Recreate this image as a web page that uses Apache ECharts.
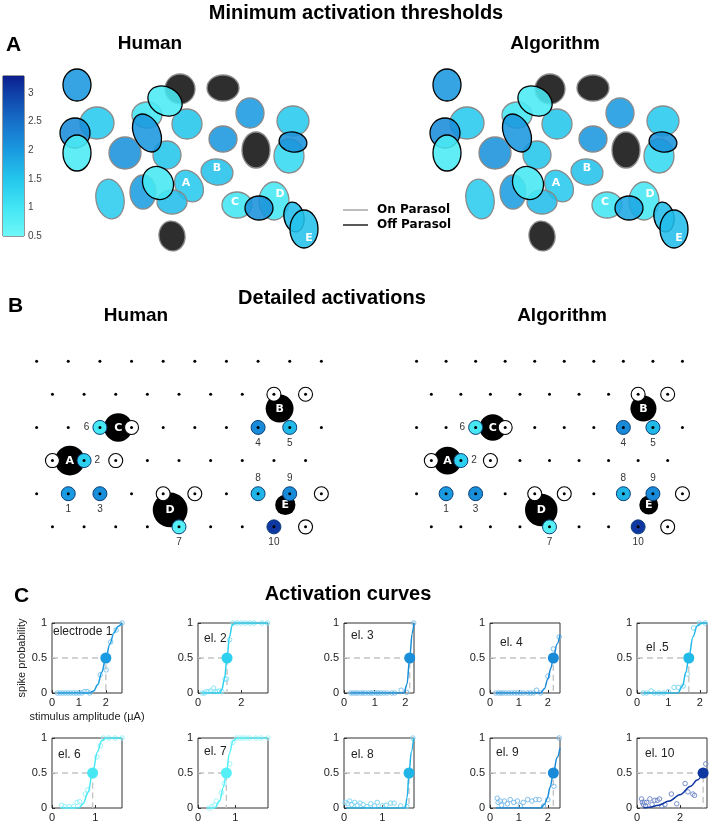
<!DOCTYPE html>
<html>
<head>
<meta charset="utf-8">
<script src="https://cdn.jsdelivr.net/npm/echarts@6.0.0/dist/echarts.min.js"></script>
<style>
  html, body { margin: 0; background: #fff; }
  #chart { width: 712px; height: 823px; }
</style>
</head>
<body>
<div id="chart"></div>
<script>
// ---------- panel A: receptive fields (panel units ~ pixels of the original map) ----------
const rfCenters = [
  [37, 15], [140, 19], [125, 31], [183, 18], [210, 43], [253, 51], [57, 53], [107, 45],
  [107, 63], [147, 54], [35, 63], [37, 83], [85, 83], [127, 85], [183, 69], [216, 80],
  [253, 72], [249, 86], [177, 102], [118, 113], [149, 116], [70, 129], [103, 122], [132, 132],
  [197, 135], [234, 131], [219, 138], [254, 147], [264, 159], [132, 166]
];
const rfRadii = [
  [14, 16], [15, 15], [18, 14], [16, 13], [14, 15], [16, 15], [17, 16], [15, 13],
  [13, 20], [15, 15], [15, 15], [14, 18], [16, 16], [14, 14], [14, 13], [14, 18],
  [14, 10], [15, 17], [16, 13], [15, 17], [13, 17], [14, 20], [13, 17], [15, 12],
  [15, 13], [15, 19], [14, 12], [10, 15], [14, 19], [13, 15]
];
const rfTilt = [0, 0, 30, 0, 0, 0, 0, 0, -25, 0, 0, 0, 0, 0, 0, 0, 10, 0, 10, -30, -35, -10, 0, 0, 0, 0, 0, -10, 0, -10];
// 1 = off parasol (black outline), 0 = on parasol (grey outline)
const rfType = [1, 0, 1, 0, 0, 0, 0, 0, 1, 0, 1, 1, 0, 0, 0, 0, 1, 0, 0, 1, 0, 0, 0, 0, 0, 0, 1, 1, 1, 0];
// minimum activation thresholds (µA); null = not activated (black)
const thrHuman = [2.05, null, 0.9, null, 2.0, 1.45, 1.45, 1.0, 2.05, 1.5, 2.15, 0.9, 2.1, 1.5, 2.05, null,
  2.1, 1.2, 1.55, 0.95, 1.45, 1.4, 1.95, 1.6, 1.0, 0.95, 2.1, 1.6, 1.55, null];
const thrAlgo = [2.05, null, 0.9, null, 2.0, 1.45, 1.45, 1.0, 2.05, 1.5, 2.15, 0.9, 2.1, 1.5, 2.05, null,
  2.1, 1.2, 1.55, 0.95, 1.45, 1.4, 1.95, 1.6, 1.0, 0.95, 1.85, 1.6, 1.6, null];
const rfLabels = { 20: ['A', -3, -3], 18: ['B', 0, -4], 24: ['C', -2, -3], 25: ['D', 6, -7], 28: ['E', 5, 9] };

// colour scale
const cmapStops = [0.5, 1.0, 1.5, 2.0, 2.5, 3.0, 3.3];
const cmapColors = ['#6ef8f8', '#42e6f4', '#24c6ec', '#1a9ae0', '#1770c8', '#0f40a8', '#0b1e8c'];
const cbTicks = [0.5, 3.3];

// ---------- panel B: electrode array (col, row) ----------
const evenCols = [0, 1, 2, 3, 4, 5, 6, 7, 8, 9];
const oddCols = [0.5, 1.5, 2.5, 3.5, 4.5, 5.5, 6.5, 7.5, 8.5];
const arrayRows = [0, 1, 2, 3, 4, 5];
const somaPos = [[1.05, 3], [2.58, 2], [7.68, 1.43], [4.22, 4.49], [7.86, 4.34]];
const somaR = [0.47, 0.45, 0.44, 0.55, 0.32];
const somaLabel = ['A', 'C', 'B', 'D', 'E'];
const stimPos = [[1, 4], [1.5, 3], [2, 4], [7, 2], [8, 2], [2, 2], [4.5, 5], [7, 4], [8, 4], [7.5, 5]];
const recPos = [[7.5, 1], [8.5, 1], [3, 2], [0.5, 3], [2.5, 3], [4, 4], [5, 4], [9, 4], [8.5, 5]];

// ---------- panel C: activation curves ----------
const elThr = [2.0, 1.34, 2.14, 2.19, 1.65, 0.94, 0.76, 1.70, 2.19, 3.08];
const elNames = ['electrode 1', 'el. 2', 'el. 3', 'el. 4', 'el .5', 'el. 6', 'el. 7', 'el. 8', 'el. 9', 'el. 10'];
const xMax = [2.6, 3.23, 2.28, 2.42, 2.23, 1.62, 1.875, 1.83, 2.42, 3.26];
const xStep = [1, 2, 1, 1, 1, 1, 1, 1, 1, 2];
const elPoints = [
  [[0.2,0],[0.3,0],[0.4,0],[0.5,0],[0.6,0],[0.7,0],[0.8,0],[0.9,0],[1.0,0],[1.1,0],[1.2,0.02],[1.3,0.02],[1.4,0],[1.79,0.26],[2.01,0.33],[2.18,0.73],[2.38,0.9],[2.6,1.0]],
  [[0.2,0],[0.3,0],[0.4,0.02],[0.5,0.02],[0.6,0.03],[0.72,0.07],[0.8,0.02],[0.9,0.02],[1.0,0.03],[1.1,0.02],[1.25,0.2],[1.32,0.2],[1.46,0.76],[1.62,1],[1.8,1],[2.0,1],[2.2,1],[2.4,1],[2.6,1],[2.95,1],[3.2,1]],
  [[0.22,0],[0.3,0],[0.38,0],[0.45,0],[0.55,0],[0.62,0],[0.7,0],[0.8,0],[0.88,0],[0.95,0],[1.05,0],[1.12,0],[1.2,0],[1.3,0],[1.4,0],[1.55,0],[1.65,0],[1.86,0.04],[2.04,0.01],[2.27,1.0]],
  [[0.2,0],[0.3,0],[0.38,0],[0.45,0],[0.55,0],[0.65,0],[0.75,0],[0.85,0],[0.95,0],[1.05,0],[1.15,0],[1.3,0],[1.4,0],[1.5,0],[1.61,0.04],[1.75,0],[2.0,0.24],[2.19,0.63],[2.39,0.8]],
  [[0.2,0],[0.3,0],[0.45,0.03],[0.55,0],[0.7,0],[0.85,0],[1.0,0.02],[1.18,0.08],[1.32,0.08],[1.47,0.1],[1.6,0.27],[1.8,0.93],[1.99,1],[2.17,1]],
  [[0.22,0.04],[0.3,0.02],[0.4,0.02],[0.5,0.02],[0.58,0.08],[0.64,0.09],[0.77,0.2],[0.83,0.26],[1.04,0.73],[1.12,0.89],[1.19,1],[1.31,1],[1.46,1],[1.62,1]],
  [[0.3,0],[0.38,0.02],[0.45,0.04],[0.49,0.1],[0.63,0.22],[0.7,0.35],[0.85,0.63],[0.94,0.94],[1.03,1],[1.12,1],[1.2,1],[1.28,1],[1.38,1],[1.55,1],[1.68,1],[1.87,1]],
  [[0.03,0.08],[0.1,0.06],[0.15,0.1],[0.2,0.05],[0.28,0.08],[0.35,0.04],[0.42,0.07],[0.5,0.05],[0.6,0.02],[0.7,0.06],[0.8,0.03],[0.87,0.08],[1.0,0.03],[1.1,0.04],[1.22,0.07],[1.31,0.07],[1.48,0.03],[1.64,0.02],[1.8,1.0]],
  [[0.25,0.14],[0.28,0.08],[0.35,0.1],[0.4,0.04],[0.5,0.1],[0.6,0.06],[0.7,0.12],[0.82,0.08],[0.95,0.1],[1.05,0.03],[1.15,0.08],[1.3,0.12],[1.45,0.1],[1.58,0.12],[1.7,0.12],[1.85,0.03],[2.0,0.12],[2.21,0.31],[2.39,1.0]],
  [[0.21,0.13],[0.25,0.08],[0.3,0.05],[0.35,0.08],[0.4,0.03],[0.45,0.08],[0.6,0.13],[0.7,0.05],[0.83,0.11],[0.95,0.11],[1.05,0.13],[1.15,0.03],[1.3,0.05],[1.6,0.2],[1.85,0.06],[2.24,0.35],[2.37,0.23],[2.6,0.2],[2.68,0.18],[3.2,0.63]]
];
const elCurves = [
  [[0.2,0],[1.4,0],[1.55,0.03],[1.7,0.12],[1.85,0.3],[2.0,0.5],[2.15,0.7],[2.3,0.86],[2.45,0.95],[2.6,1.0]],
  [[0.2,0],[1.0,0],[1.1,0.05],[1.22,0.2],[1.34,0.5],[1.45,0.8],[1.58,0.97],[1.7,1],[3.23,1]],
  [[0.2,0],[1.95,0],[2.05,0.12],[2.14,0.5],[2.22,0.85],[2.28,1.0]],
  [[0.2,0],[1.75,0],[1.88,0.06],[2.0,0.2],[2.1,0.35],[2.19,0.5],[2.32,0.7],[2.42,0.83]],
  [[0.2,0],[1.3,0],[1.45,0.1],[1.56,0.3],[1.65,0.5],[1.78,0.8],[1.92,0.96],[2.05,1],[2.23,1]],
  [[0.2,0],[0.62,0],[0.72,0.06],[0.83,0.22],[0.94,0.5],[1.05,0.8],[1.15,0.96],[1.25,1],[1.62,1]],
  [[0.25,0],[0.45,0],[0.58,0.1],[0.68,0.3],[0.76,0.5],[0.84,0.78],[0.94,0.96],[1.05,1],[1.87,1]],
  [[0.05,0],[1.6,0],[1.65,0.15],[1.7,0.5],[1.76,0.8],[1.82,1]],
  [[0.2,0],[1.75,0],[1.88,0.05],[1.98,0.14],[2.08,0.3],[2.19,0.5],[2.32,0.72],[2.42,0.86]],
  [[0.3,0],[0.6,0.01],[1.0,0.04],[1.5,0.1],[2.0,0.19],[2.5,0.31],[2.8,0.4],[3.08,0.5]]
];

const FONT = '"Liberation Sans", Arial, sans-serif';

function cmap(v) {
  if (v <= cmapStops[0]) return cmapColors[0];
  for (let k = 1; k < cmapStops.length; k++) {
    if (v <= cmapStops[k]) {
      const t = (v - cmapStops[k - 1]) / (cmapStops[k] - cmapStops[k - 1]);
      return echarts.color.lerp(t, [cmapColors[k - 1], cmapColors[k]]);
    }
  }
  return cmapColors[cmapColors.length - 1];
}

const myChart = echarts.init(document.getElementById('chart'));

const grids = [], xAxes = [], yAxes = [], series = [];
function hiddenGrid(g, x0, x1, y0, y1, inverse) {
  grids.push(g);
  const i = grids.length - 1;
  xAxes.push({ type: 'value', gridIndex: i, min: x0, max: x1, show: false });
  yAxes.push({ type: 'value', gridIndex: i, min: y0, max: y1, inverse: !!inverse, show: false });
  return i;
}

// ----- panel A -----
function rfSeries(gi, thr) {
  const order = rfCenters.map((c, i) => i).sort((a, b) => rfType[a] - rfType[b]);
  series.push({
    type: 'custom', xAxisIndex: gi, yAxisIndex: gi, silent: true,
    data: order.map(i => [rfCenters[i][0], rfCenters[i][1], i]),
    renderItem: (params, api) => {
      const i = api.value(2);
      const p = api.coord([api.value(0), api.value(1)]);
      const s = api.size([rfRadii[i][0], rfRadii[i][1]]);
      const fill = thr[i] == null ? '#111' : cmap(thr[i]);
      return {
        type: 'ellipse', x: p[0], y: p[1], rotation: -rfTilt[i] * Math.PI / 180,
        shape: { cx: 0, cy: 0, rx: s[0], ry: s[1] },
        style: { fill: fill, fillOpacity: 0.88, stroke: rfType[i] ? '#000' : '#8a8a8a', lineWidth: 1.3 }
      };
    }
  });
  const labIdx = Object.keys(rfLabels).map(Number);
  series.push({
    type: 'custom', xAxisIndex: gi, yAxisIndex: gi, silent: true, z: 5,
    data: labIdx.map(i => [rfCenters[i][0], rfCenters[i][1], i]),
    renderItem: (params, api) => {
      const i = api.value(2);
      const p = api.coord([api.value(0), api.value(1)]);
      const lab = rfLabels[i];
      return {
        type: 'text', x: p[0] + lab[1], y: p[1] + lab[2],
        style: { text: lab[0], fill: '#fff', font: 'bold 11px "DejaVu Sans", sans-serif',
          align: 'center', verticalAlign: 'middle', textAlign: 'center', textVerticalAlign: 'middle' }
      };
    }
  });
}
const gAH = hiddenGrid({ left: 40, top: 70, width: 290, height: 180 }, 0, 290, 0, 180, true);
rfSeries(gAH, thrHuman);
const gAA = hiddenGrid({ left: 410, top: 70, width: 290, height: 180 }, 0, 290, 0, 180, true);
rfSeries(gAA, thrAlgo);

// colorbar
grids.push({ left: 3, top: 76, width: 21, height: 160, show: true, borderColor: '#333', borderWidth: 1 });
const gCB = grids.length - 1;
xAxes.push({ type: 'value', gridIndex: gCB, min: 0, max: 1, show: false });
yAxes.push({
  type: 'value', gridIndex: gCB, min: cbTicks[0], max: cbTicks[1], interval: 0.5, position: 'right',
  axisLine: { show: false }, splitLine: { show: false }, axisTick: { show: false },
  axisLabel: { fontSize: 10, color: '#444', margin: 4, fontFamily: FONT, showMaxLabel: false }
});
series.push({
  type: 'custom', xAxisIndex: gCB, yAxisIndex: gCB, silent: true, data: [[0, cbTicks[0], 1, cbTicks[1]]],
  renderItem: (params, api) => {
    const a = api.coord([api.value(0), api.value(3)]);
    const b = api.coord([api.value(2), api.value(1)]);
    const stops = cmapStops.map((v, k) => ({
      offset: (cbTicks[1] - v) / (cbTicks[1] - cbTicks[0]), color: cmapColors[k]
    })).reverse();
    return {
      type: 'rect', shape: { x: a[0], y: a[1], width: b[0] - a[0], height: b[1] - a[1] },
      style: { fill: new echarts.graphic.LinearGradient(0, 0, 0, 1, stops) }
    };
  }
});

// ----- panel B -----
function arraySeries(gi) {
  series.push({
    type: 'custom', xAxisIndex: gi, yAxisIndex: gi, silent: true, z: 2,
    data: somaPos.map((p, i) => [p[0], p[1], somaR[i], i]),
    renderItem: (params, api) => {
      const c = api.coord([api.value(0), api.value(1)]);
      const r = api.size([api.value(2), 0])[0];
      return {
        type: 'group', children: [
          { type: 'circle', shape: { cx: c[0], cy: c[1], r: r }, style: { fill: '#000' } },
          { type: 'text', x: c[0], y: c[1] + 0.5, style: { text: somaLabel[api.value(3)], fill: '#fff',
            font: 'bold 11px "DejaVu Sans", sans-serif', align: 'center', verticalAlign: 'middle',
            textAlign: 'center', textVerticalAlign: 'middle' } }
        ]
      };
    }
  });
  series.push({
    type: 'scatter', xAxisIndex: gi, yAxisIndex: gi, silent: true, z: 3,
    symbolSize: 14, data: recPos,
    itemStyle: { color: '#fff', borderColor: '#000', borderWidth: 1.1, opacity: 1 }
  });
  const labelPos = ['bottom', 'right', 'bottom', 'bottom', 'bottom', 'left', 'bottom', 'top', 'top', 'bottom'];
  series.push({
    type: 'scatter', xAxisIndex: gi, yAxisIndex: gi, silent: true, z: 4,
    symbolSize: 14,
    data: stimPos.map((p, i) => ({
      value: p,
      itemStyle: { color: cmap(elThr[i]) },
      label: { show: true, position: labelPos[i], formatter: String(i + 1) }
    })),
    itemStyle: { borderColor: '#0b3f78', borderWidth: 1, opacity: 1 },
    label: { color: '#333', fontSize: 10, fontFamily: FONT, distance: 3 }
  });
  const dots = [];
  arrayRows.forEach(r => (r % 2 === 0 ? evenCols : oddCols).forEach(c => dots.push([c, r])));
  series.push({
    type: 'scatter', xAxisIndex: gi, yAxisIndex: gi, silent: true, z: 5,
    symbolSize: 3, data: dots, itemStyle: { color: '#000', opacity: 1 }
  });
}
const gBH = hiddenGrid({ left: 5, top: 328, width: 348, height: 232 }, -1, 10, -1, 6, true);
arraySeries(gBH);
const gBA = hiddenGrid({ left: 387, top: 328, width: 348, height: 232 }, -1, 10, -1, 6, true);
arraySeries(gBA);

// ----- panel C -----
const cLefts = [52, 198, 344, 490, 637];
const cTops = [623, 738];
const graphics = [];
elThr.forEach((thr, k) => {
  grids.push({
    left: cLefts[k % 5], top: cTops[Math.floor(k / 5)], width: 70, height: 70,
    show: true, borderColor: '#333', borderWidth: 1
  });
  const gi = grids.length - 1;
  const col = cmap(thr);
  const light = echarts.color.lerp(0.35, [col, '#ffffff']);
  xAxes.push({
    type: 'value', gridIndex: gi, min: 0, max: xMax[k], interval: xStep[k],
    axisLine: { show: false }, splitLine: { show: false },
    axisTick: { inside: true, length: 3, lineStyle: { color: '#333' } },
    axisLabel: { fontSize: 11, color: '#222', margin: 4, fontFamily: FONT, showMaxLabel: false },
    name: k === 0 ? 'stimulus amplitude (µA)' : '', nameLocation: 'middle', nameGap: 18,
    nameTextStyle: { fontSize: 11, color: '#222', fontFamily: FONT }
  });
  yAxes.push({
    type: 'value', gridIndex: gi, min: 0, max: 1, interval: 0.5,
    axisLine: { show: false }, splitLine: { show: false },
    axisTick: { inside: true, length: 3, lineStyle: { color: '#333' } },
    axisLabel: { fontSize: 11, color: '#222', margin: 5, fontFamily: FONT },
    name: k === 0 ? 'spike probability' : '', nameLocation: 'middle', nameGap: 17,
    nameTextStyle: { fontSize: 11, color: '#222', fontFamily: FONT }
  });
  series.push({
    type: 'line', xAxisIndex: gi, yAxisIndex: gi, silent: true, z: 1,
    data: [[0, 0.5], [thr, 0.5], [thr, 0]], symbol: 'none',
    lineStyle: { color: '#c4c4c4', width: 1.4, type: [6, 4] }
  });
  series.push({
    type: 'scatter', xAxisIndex: gi, yAxisIndex: gi, silent: true, z: 2,
    data: elPoints[k], symbolSize: 4.5,
    itemStyle: { color: 'rgba(255,255,255,0.3)', opacity: 0.85, borderColor: light, borderWidth: 1 }
  });
  series.push({
    type: 'line', xAxisIndex: gi, yAxisIndex: gi, silent: true, z: 3,
    data: elCurves[k], symbol: 'none', smooth: 0.35, smoothMonotone: 'x',
    lineStyle: { color: col, width: 1.5 }
  });
  series.push({
    type: 'scatter', xAxisIndex: gi, yAxisIndex: gi, silent: true, z: 4,
    data: [[thr, 0.5]], symbolSize: 11, itemStyle: { color: col, opacity: 1 }
  });
});

// ----- texts -----
function txt(x, y, text, font, align, color) {
  return { type: 'text', x: x, y: y, silent: true,
    style: { text: text, font: font, fill: color || '#000', align: align || 'left', verticalAlign: 'middle',
      textAlign: align || 'left', textVerticalAlign: 'middle' } };
}
const H1 = 'bold 20px ' + FONT, H2 = 'bold 19px ' + FONT, PL = 'bold 21px ' + FONT;
graphics.push(
  txt(356, 13, 'Minimum activation thresholds', H1, 'center'),
  txt(6, 45, 'A', PL),
  txt(150, 44, 'Human', H2, 'center'),
  txt(555, 44, 'Algorithm', H2, 'center'),
  { type: 'line', silent: true, shape: { x1: 343, y1: 210, x2: 368, y2: 210 }, style: { stroke: '#999', lineWidth: 1.3 } },
  { type: 'line', silent: true, shape: { x1: 343, y1: 225, x2: 368, y2: 225 }, style: { stroke: '#000', lineWidth: 1.3 } },
  txt(377, 210, 'On Parasol', 'bold 12px "DejaVu Sans", sans-serif'),
  txt(377, 225, 'Off Parasol', 'bold 12px "DejaVu Sans", sans-serif'),
  txt(8, 306, 'B', PL),
  txt(332, 298, 'Detailed activations', H1, 'center'),
  txt(136, 316, 'Human', H2, 'center'),
  txt(562, 316, 'Algorithm', H2, 'center'),
  txt(14, 596, 'C', PL),
  txt(348, 594, 'Activation curves', H1, 'center')
);
const elTextPos = [[53, 632], [204, 639], [351, 636], [500, 643], [646, 648],
  [58, 755], [204, 752], [351, 755], [496, 753], [645, 754]];
elNames.forEach((n, k) => graphics.push(txt(elTextPos[k][0], elTextPos[k][1], n, '12px ' + FONT, 'left', '#222')));

myChart.setOption({
  animation: false,
  backgroundColor: '#fff',
  grid: grids,
  xAxis: xAxes,
  yAxis: yAxes,
  series: series,
  graphic: graphics
});
</script>
</body>
</html>
